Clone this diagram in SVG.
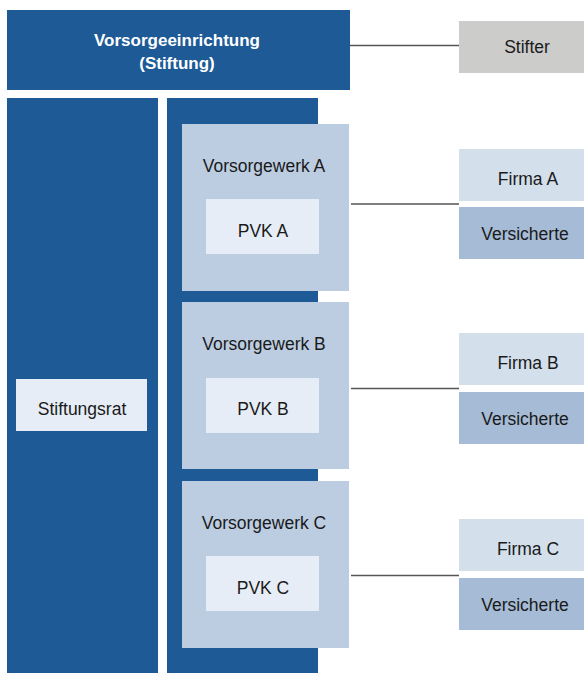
<svg xmlns="http://www.w3.org/2000/svg" width="584" height="673" viewBox="0 0 584 673">
<style>
.dark{fill:#1d5a96}
.vw{fill:#bccde2}
.pvk{fill:#e6edf6}
.firma{fill:#d3dfea}
.vers{fill:#a5bbd6}
.stifter{fill:#cccccb}
text{font-family:"Liberation Sans",Arial,sans-serif;font-size:17.5px;fill:#1a1a1a;text-anchor:middle}
.title{fill:#ffffff;font-weight:bold;font-size:17px}
.conn line{stroke:#555;stroke-width:1.3}
</style>
<rect width="584" height="673" fill="#ffffff"/>
<g id="vorsorgeeinrichtung">
<rect class="dark" x="7" y="10" width="343" height="80"/>
<text class="title" x="177" y="46">Vorsorgeeinrichtung</text>
<text class="title" x="177" y="69">(Stiftung)</text>
</g>
<g id="stifter">
<rect class="stifter" x="459" y="21" width="125" height="52"/>
<text x="527" y="53">Stifter</text>
</g>
<g id="stiftungsrat-column">
<rect class="dark" x="7" y="98" width="151" height="575"/>
</g>
<g id="stiftungsrat">
<rect class="pvk" x="16" y="379" width="131" height="52"/>
<text x="82" y="415">Stiftungsrat</text>
</g>
<g id="vorsorgewerke-column">
<rect class="dark" x="167" y="98" width="151" height="575"/>
</g>
<g id="vorsorgewerk-a">
<rect class="vw" x="182" y="124" width="167" height="167"/>
<text x="264" y="172">Vorsorgewerk A</text>
</g>
<g id="pvk-a">
<rect class="pvk" x="206" y="199" width="113" height="55"/>
<text x="263" y="237">PVK A</text>
</g>
<g id="vorsorgewerk-b">
<rect class="vw" x="182" y="302" width="167" height="167"/>
<text x="264" y="350">Vorsorgewerk B</text>
</g>
<g id="pvk-b">
<rect class="pvk" x="206" y="378" width="113" height="55"/>
<text x="263" y="415">PVK B</text>
</g>
<g id="vorsorgewerk-c">
<rect class="vw" x="182" y="481" width="167" height="167"/>
<text x="264" y="529">Vorsorgewerk C</text>
</g>
<g id="pvk-c">
<rect class="pvk" x="206" y="556" width="113" height="55"/>
<text x="263" y="594">PVK C</text>
</g>
<g id="firma-a">
<rect class="firma" x="459" y="149" width="125" height="52"/>
<text x="528" y="185">Firma A</text>
</g>
<g id="versicherte-a">
<rect class="vers" x="459" y="207" width="125" height="52"/>
<text x="525" y="240">Versicherte</text>
</g>
<g id="firma-b">
<rect class="firma" x="459" y="333" width="125" height="52"/>
<text x="528" y="369">Firma B</text>
</g>
<g id="versicherte-b">
<rect class="vers" x="459" y="392" width="125" height="52"/>
<text x="525" y="425">Versicherte</text>
</g>
<g id="firma-c">
<rect class="firma" x="459" y="519" width="125" height="52"/>
<text x="528" y="555">Firma C</text>
</g>
<g id="versicherte-c">
<rect class="vers" x="459" y="578" width="125" height="52"/>
<text x="525" y="611">Versicherte</text>
</g>
<g id="connectors" class="conn">
<line x1="350" y1="45.5" x2="459" y2="45.5"/>
<line x1="351" y1="204" x2="459" y2="204"/>
<line x1="351" y1="388.5" x2="459" y2="388.5"/>
<line x1="351" y1="575.5" x2="459" y2="575.5"/>
</g>
</svg>
